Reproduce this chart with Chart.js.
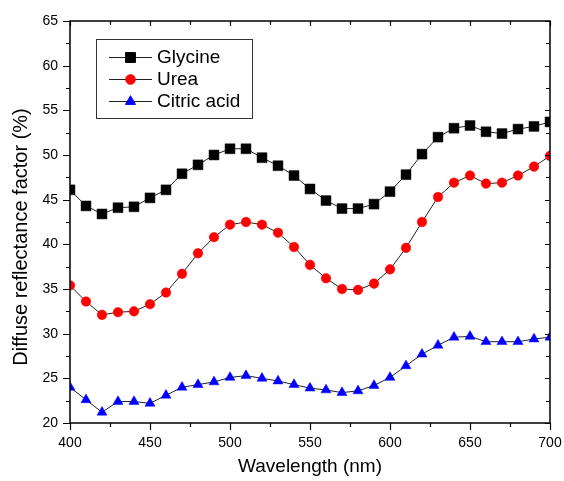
<!DOCTYPE html>
<html>
<head>
<meta charset="utf-8">
<script src="https://cdn.jsdelivr.net/npm/chart.js@4/dist/chart.umd.min.js"></script>
<style>
  html, body { margin: 0; padding: 0; background: #fff; }
  #wrap { width: 564px; height: 481px; }
</style>
</head>
<body>
<div id="wrap"><canvas id="c" width="564" height="481"></canvas></div>
<script>
const wavelength = [400,410,420,430,440,450,460,470,480,490,500,510,520,530,540,550,560,570,580,590,600,610,620,630,640,650,660,670,680,690,700];
const glycine = [46.1,44.3,43.4,44.1,44.2,45.2,46.1,47.9,48.9,50.0,50.7,50.7,49.7,48.8,47.7,46.2,44.9,44.0,44.0,44.5,45.9,47.8,50.1,52.0,53.0,53.3,52.6,52.4,52.9,53.2,53.7];
const urea = [35.4,33.6,32.1,32.4,32.5,33.3,34.6,36.7,39.0,40.8,42.2,42.5,42.2,41.3,39.7,37.7,36.2,35.0,34.9,35.6,37.2,39.6,42.5,45.3,46.9,47.7,46.8,46.9,47.7,48.7,49.9];
const citricAcid = [24.0,22.6,21.2,22.4,22.4,22.2,23.1,24.0,24.3,24.6,25.1,25.3,25.0,24.7,24.3,23.9,23.7,23.4,23.6,24.2,25.1,26.4,27.7,28.7,29.6,29.7,29.1,29.1,29.1,29.4,29.6];
const seriesNames = ["Glycine", "Urea", "Citric acid"];
const xTicks = [400,450,500,550,600,650,700];
const yTicks = [20,25,30,35,40,45,50,55,60,65];
const yTitle = "Diffuse reflectance factor (%)";
const xTitle = "Wavelength (nm)";

const FONT = "'Liberation Sans', Arial, sans-serif";

function pts(ys) { return wavelength.map((x, i) => ({ x: x, y: ys[i] })); }

const styles = [
  { color: '#000000', shape: 'rect', r: 7 },
  { color: '#ff0000', shape: 'circle', r: 4.8 },
  { color: '#0000ff', shape: 'triangle', r: 5.8 }
];
const seriesData = [glycine, urea, citricAcid];

const datasets = seriesData.map((d, i) => ({
  label: seriesNames[i],
  data: pts(d),
  borderColor: '#222222',
  borderWidth: 1,
  pointStyle: styles[i].shape,
  pointRadius: styles[i].r,
  pointHoverRadius: styles[i].r,
  pointBackgroundColor: styles[i].color,
  pointBorderColor: styles[i].color,
  pointBorderWidth: 0.5,
  tension: 0,
  fill: false
}));

const framePlugin = {
  id: 'frame',
  afterDatasetsDraw(chart) {
    const ctx = chart.ctx;
    const a = chart.chartArea;
    const xs = chart.scales.x, ys = chart.scales.y;
    ctx.save();
    ctx.strokeStyle = '#000';
    ctx.lineWidth = 1.5;
    ctx.strokeRect(a.left, a.top, a.right - a.left, a.bottom - a.top);
    ctx.lineWidth = 1.2;
    ctx.beginPath();
    for (let v = 400; v <= 700; v += 25) {
      const px = Math.round(xs.getPixelForValue(v)) + 0.5;
      const major = v % 50 === 0;
      const outL = major ? 7 : 4;
      const inL = major ? 5 : 4;
      ctx.moveTo(px, a.bottom); ctx.lineTo(px, a.bottom + outL);
      ctx.moveTo(px, a.top); ctx.lineTo(px, a.top + inL);
    }
    for (let v = 20; v <= 65; v += 2.5) {
      const py = Math.round(ys.getPixelForValue(v)) + 0.5;
      const major = v % 5 === 0;
      const outL = major ? 7 : 4;
      const inL = major ? 5 : 4;
      ctx.moveTo(a.left, py); ctx.lineTo(a.left - outL, py);
      ctx.moveTo(a.right, py); ctx.lineTo(a.right - inL, py);
    }
    ctx.stroke();

    // y-axis title
    ctx.save();
    ctx.translate(21, 237);
    ctx.rotate(-Math.PI / 2);
    ctx.fillStyle = '#000';
    ctx.font = '20px ' + FONT;
    ctx.textAlign = 'center';
    ctx.textBaseline = 'middle';
    ctx.fillText(yTitle, 0, 0);
    ctx.restore();

    // legend
    const bx = 96, by = 39, bw = 156, bh = 79;
    ctx.fillStyle = '#fff';
    ctx.fillRect(bx, by, bw, bh);
    ctx.strokeStyle = '#333';
    ctx.lineWidth = 1;
    ctx.strokeRect(bx + 0.5, by + 0.5, bw, bh);
    const rowY = [57, 79, 101];
    ctx.font = '19px ' + FONT;
    ctx.textBaseline = 'middle';
    ctx.textAlign = 'left';
    seriesNames.forEach((name, i) => {
      const y = rowY[i];
      ctx.strokeStyle = '#222';
      ctx.lineWidth = 1;
      ctx.beginPath();
      ctx.moveTo(109, y + 0.5); ctx.lineTo(152, y + 0.5);
      ctx.stroke();
      ctx.fillStyle = styles[i].color;
      ctx.strokeStyle = styles[i].color;
      Chart.helpers.drawPoint(ctx, { pointStyle: styles[i].shape, radius: styles[i].r, borderWidth: 0.5, rotation: 0 }, 130.5, y + 0.5);
      ctx.fillStyle = '#000';
      ctx.fillText(name, 157, y + 1);
    });
    ctx.restore();
  }
};

new Chart(document.getElementById('c'), {
  type: 'line',
  data: { datasets: datasets },
  options: {
    responsive: false,
    animation: false,
    devicePixelRatio: 1,
    layout: { padding: { top: 21, right: 14, left: 0, bottom: 0 } },
    plugins: { legend: { display: false }, tooltip: { enabled: false } },
    scales: {
      x: {
        type: 'linear',
        min: 400, max: 700,
        afterFit(s) { s.height = 58; s.paddingLeft = 0; s.paddingRight = 0; },
        afterBuildTicks(s) { s.ticks = xTicks.map(v => ({ value: v })); },
        grid: { display: false, drawTicks: false, tickLength: 7 },
        border: { display: false },
        ticks: { color: '#000', font: { family: FONT, size: 14 }, padding: 12, maxRotation: 0 },
        title: { display: true, text: xTitle, color: '#000', font: { family: FONT, size: 19 }, padding: { top: 0, bottom: 3 } }
      },
      y: {
        type: 'linear',
        min: 20, max: 65,
        afterFit(s) { s.width = 70; s.paddingTop = 0; s.paddingBottom = 0; },
        afterBuildTicks(s) { s.ticks = yTicks.map(v => ({ value: v })); },
        grid: { display: false, drawTicks: false, tickLength: 7 },
        border: { display: false },
        ticks: { color: '#000', font: { family: FONT, size: 14 }, padding: 12 },
        title: { display: false }
      }
    }
  },
  plugins: [framePlugin]
});
</script>
</body>
</html>
